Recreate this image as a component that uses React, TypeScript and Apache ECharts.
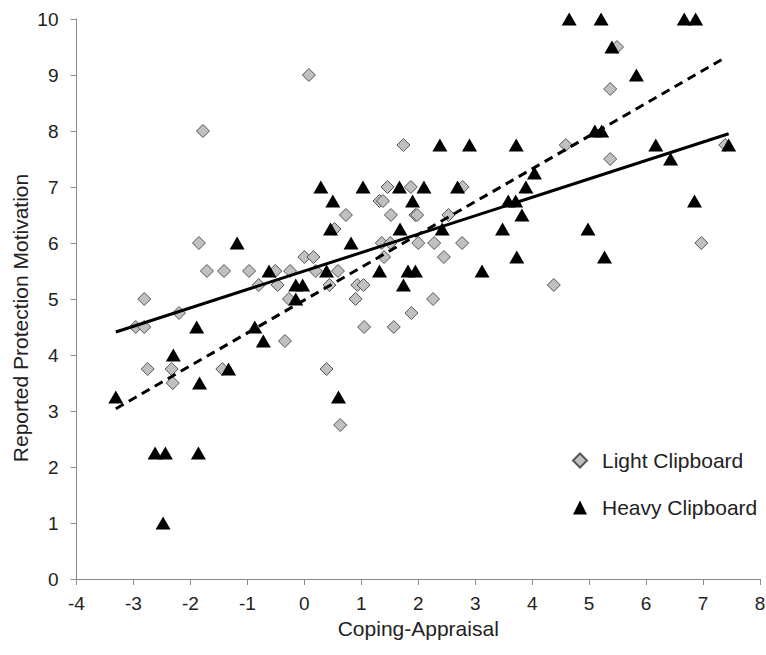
import React, { useEffect, useRef } from "react";
import * as echarts from "echarts";

const lightClipboard: [number, number][] = [
  [-2.96, 4.5], [-2.81, 4.5], [-2.81, 5.0], [-2.75, 3.75], [-2.33, 3.75], [-2.31, 3.5],
  [-2.2, 4.75], [-1.85, 6.0], [-1.78, 8.0], [-1.71, 5.5], [-1.44, 3.75], [-1.41, 5.5],
  [-0.97, 5.5], [-0.8, 5.25], [-0.51, 5.5], [-0.47, 5.25], [-0.34, 4.25], [-0.27, 5.0],
  [-0.25, 5.5], [0.0, 5.75], [0.08, 9.0], [0.16, 5.75], [0.2, 5.5], [0.39, 3.75],
  [0.44, 5.25], [0.53, 6.25], [0.59, 5.5], [0.63, 2.75], [0.73, 6.5], [0.9, 5.0],
  [0.93, 5.25], [1.04, 5.25], [1.05, 4.5], [1.32, 6.75], [1.38, 6.75], [1.36, 6.0],
  [1.4, 5.75], [1.46, 7.0], [1.51, 6.0], [1.52, 6.5], [1.57, 4.5], [1.74, 7.75],
  [1.87, 7.0], [1.88, 4.75], [1.95, 6.5], [1.98, 6.5], [2.0, 6.0], [2.26, 5.0],
  [2.28, 6.0], [2.45, 5.75], [2.53, 6.5], [2.77, 6.0], [2.78, 7.0], [4.38, 5.25],
  [4.59, 7.75], [5.37, 8.75], [5.37, 7.5], [5.49, 9.5], [6.97, 6.0], [7.39, 7.75],
];

const heavyClipboard: [number, number][] = [
  [-3.31, 3.25], [-2.62, 2.25], [-2.44, 2.25], [-2.48, 1.0], [-2.3, 4.0], [-1.89, 4.5],
  [-1.86, 2.25], [-1.84, 3.5], [-1.33, 3.75], [-1.18, 6.0], [-0.87, 4.5], [-0.72, 4.25],
  [-0.62, 5.5], [-0.15, 5.25], [-0.03, 5.25], [-0.15, 5.0], [0.29, 7.0], [0.39, 5.5],
  [0.46, 6.25], [0.5, 6.75], [0.6, 3.25], [0.82, 6.0], [1.03, 7.0], [1.32, 5.5],
  [1.67, 7.0], [1.68, 6.25], [1.74, 5.25], [1.82, 5.5], [1.95, 5.5], [1.9, 6.75],
  [2.1, 7.0], [2.38, 7.75], [2.42, 6.25], [2.69, 7.0], [2.9, 7.75], [3.12, 5.5],
  [3.48, 6.25], [3.58, 6.75], [3.71, 6.75], [3.72, 7.75], [3.73, 5.75], [3.82, 6.5],
  [3.89, 7.0], [4.04, 7.25], [4.65, 10.0], [4.98, 6.25], [5.1, 8.0], [5.22, 8.0],
  [5.21, 10.0], [5.27, 5.75], [5.4, 9.5], [5.83, 9.0], [6.17, 7.75], [6.43, 7.5],
  [6.67, 10.0], [6.87, 10.0], [6.85, 6.75], [7.45, 7.75],
];

// Linear trend lines: [intercept, slope] and x-range
const lightFit = [5.5, 0.329];
const heavyFit = [4.98, 0.586];
const lightFitRange = [-3.31, 7.45];
const heavyFitRange = [-3.31, 7.39];

const seriesNames = ["Light Clipboard", "Heavy Clipboard"];
const xAxisTitle = "Coping-Appraisal";
const yAxisTitle = "Reported Protection Motivation";

const FONT = "'Liberation Sans', Arial, sans-serif";

function fitLine(fit: number[], range: number[]) {
  return range.map((x) => [x, fit[0] + fit[1] * x]);
}

export default function App() {
  const ref = useRef<HTMLDivElement>(null);
  useEffect(() => {
    document.body.style.margin = "0";
    if (!ref.current) return;
    const chart = echarts.init(ref.current, undefined, { renderer: "svg" });
    const axisColor = "#8c8c8c";
    const textColor = "#222";
    chart.setOption({
      animation: false,
      backgroundColor: "#fff",
      textStyle: { fontFamily: FONT },
      grid: { left: 76.5, right: 6, top: 19, bottom: 76, containLabel: false, outerBoundsMode: "none" },
      graphic: [
        {
          type: "text",
          x: 20,
          y: 318,
          rotation: Math.PI / 2,
          style: {
            text: yAxisTitle,
            fontSize: 21,
            fontFamily: FONT,
            fill: textColor,
            textAlign: "center",
            textVerticalAlign: "middle",
          },
        },
      ],
      xAxis: {
        type: "value",
        min: -4,
        max: 8,
        interval: 1,
        name: xAxisTitle,
        nameLocation: "middle",
        nameGap: 34,
        nameTextStyle: { fontSize: 21, color: textColor, fontFamily: FONT },
        axisLine: { onZero: false, lineStyle: { color: axisColor, width: 1 } },
        axisTick: { show: true, length: 6, lineStyle: { color: axisColor } },
        axisLabel: { fontSize: 19, color: textColor, margin: 15, fontFamily: FONT },
        splitLine: { show: false },
      },
      yAxis: {
        type: "value",
        min: 0,
        max: 10,
        interval: 1,
        axisLine: { show: true, onZero: false, lineStyle: { color: axisColor, width: 1 } },
        axisTick: { show: true, length: 6, lineStyle: { color: axisColor } },
        axisLabel: { fontSize: 19, color: textColor, margin: 18, fontFamily: FONT },
        splitLine: { show: false },
      },
      legend: {
        data: seriesNames,
        orient: "vertical",
        left: 567,
        top: 445,
        itemWidth: 14,
        itemHeight: 14,
        itemGap: 26,
        textStyle: { fontSize: 21, color: textColor, fontFamily: FONT, padding: [0, 0, 0, 10] },
      },
      series: [
        {
          name: seriesNames[0],
          type: "scatter",
          symbol: "diamond",
          symbolSize: 13,
          data: lightClipboard,
          itemStyle: { color: "#c0c0c0", borderColor: "#555", borderWidth: 1, opacity: 1 },
          z: 2,
        },
        {
          name: seriesNames[1],
          type: "scatter",
          symbol: "triangle",
          symbolSize: [15, 13],
          data: heavyClipboard,
          itemStyle: { color: "#000", opacity: 1 },
          z: 3,
        },
        {
          name: "Light trend",
          type: "line",
          data: fitLine(lightFit, lightFitRange),
          showSymbol: false,
          symbol: "none",
          lineStyle: { color: "#000", width: 3, type: "solid" },
          z: 4,
        },
        {
          name: "Heavy trend",
          type: "line",
          data: fitLine(heavyFit, heavyFitRange),
          showSymbol: false,
          symbol: "none",
          lineStyle: { color: "#000", width: 3, type: [9, 6] },
          z: 4,
        },
      ],
    });
    return () => chart.dispose();
  }, []);
  return <div ref={ref} style={{ width: 766, height: 655 }} />;
}
